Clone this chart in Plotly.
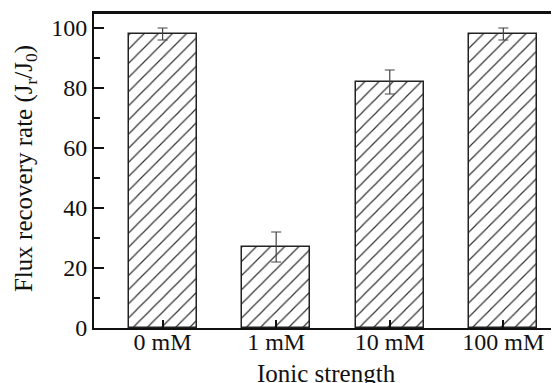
import plotly.graph_objects as go

categories = ["0 mM", "1 mM", "10 mM", "100 mM"]
values = [98, 27, 82, 98]
errors = [2, 5, 4, 2]

FONT = "Liberation Serif"
fig = go.Figure()
fig.add_trace(go.Bar(
    x=list(range(len(categories))), y=values, width=0.6,
    marker=dict(color="white", line=dict(color="#222", width=1.5),
                pattern=dict(shape="/", size=10, solidity=0.12, fgcolor="#333",
                             bgcolor="white", fillmode="replace")),
    error_y=dict(type="data", array=errors, color="#444", thickness=1.2, width=5),
))
# page body has an 8px default margin, so the figure is 551x375 and fills the 559x383 window
fig.update_layout(
    width=551, height=375, margin=dict(l=86, r=0, t=5, b=55),
    paper_bgcolor="white", plot_bgcolor="white", showlegend=False,
    font=dict(family=FONT, size=24, color="#111"),
    bargap=0,
)
fig.update_xaxes(
    range=[-0.604, 3.49], tickmode="array", tickvals=list(range(len(categories))),
    ticktext=categories, ticks="inside", ticklen=8, tickwidth=1.5, tickcolor="#111",
    showline=True, linecolor="#111", linewidth=2, mirror=True, showgrid=False, zeroline=False,
    automargin=False, ticklabelstandoff=-9,
)
fig.update_yaxes(
    range=[0, 105], dtick=20, ticks="inside", ticklen=10, tickwidth=1.5, tickcolor="#111",
    minor=dict(dtick=10, ticks="inside", ticklen=6, tickwidth=1.5, tickcolor="#111"),
    showline=True, linecolor="#111", linewidth=2, mirror=False, showgrid=False, zeroline=False,
    automargin=False,
)
# top frame line drawn as a thin filled strip along the top of the plot area
fig.add_shape(type="rect", xref="paper", yref="paper", x0=-0.002, x1=1, y0=0.997, y1=1.004,
              fillcolor="#111", line=dict(width=0), layer="above")
fig.add_annotation(text="Ionic strength", xref="paper", yref="paper", x=0.5, y=-0.095,
                   xanchor="center", yanchor="top", showarrow=False,
                   font=dict(family=FONT, size=25, color="#111"))
fig.add_annotation(text="Flux recovery rate (J<sub>r</sub>/J<sub>0</sub>)", xref="paper", yref="paper",
                   x=-0.146, y=0.505, xanchor="center", yanchor="middle", textangle=-90, showarrow=False,
                   font=dict(family=FONT, size=25, color="#111"))
fig.write_html("out.html", config={"displayModeBar": False})
